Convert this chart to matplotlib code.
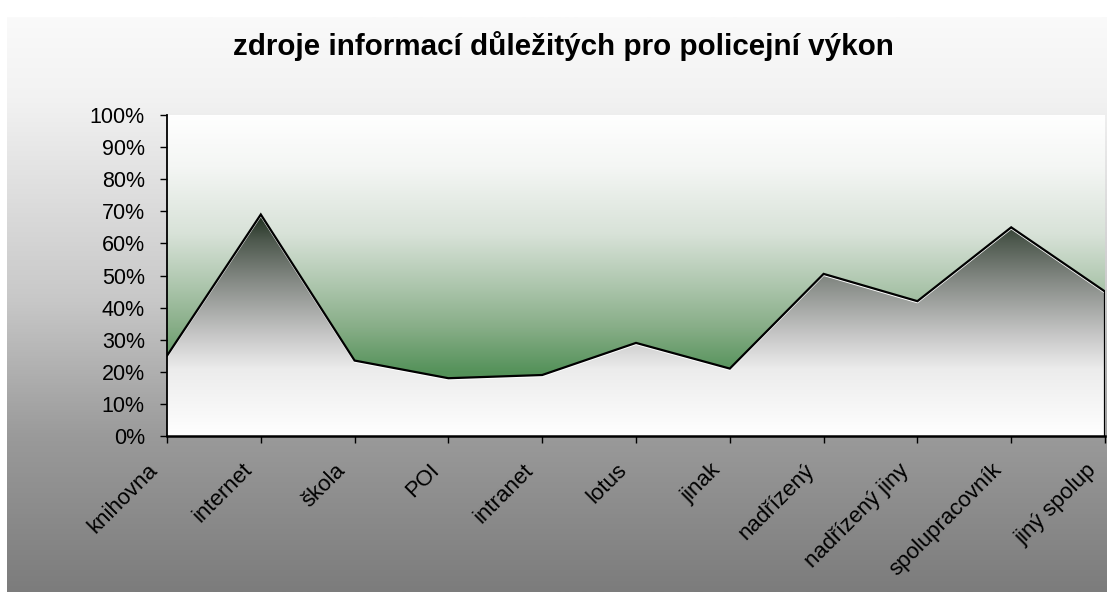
import numpy as np
import matplotlib
matplotlib.use('Agg')
import matplotlib.pyplot as plt
from matplotlib.colors import LinearSegmentedColormap
from matplotlib.ticker import FuncFormatter

plt.rcParams['font.family'] = ['Liberation Sans', 'DejaVu Sans']

categories = ['knihovna', 'internet', 'škola', 'POI', 'intranet', 'lotus', 'jinak',
              'nadřízený', 'nadřízený jiny', 'spolupracovník', 'jiný spolup']
values = [0.25, 0.69, 0.235, 0.18, 0.19, 0.29, 0.21, 0.505, 0.42, 0.65, 0.45]
yticks = np.arange(0, 1.01, 0.1)
title = 'zdroje informací důležitých pro policejní výkon'

W, H = 1107, 592
fig = plt.figure(figsize=(W / 100, H / 100), dpi=100)
fig.patch.set_facecolor('white')

# figure background gradient (light at top, gray at bottom)
bg = fig.add_axes([7 / W, 0, 1 - 7 / W, 1 - 17 / H], zorder=-10)
bg_cmap = LinearSegmentedColormap.from_list('bg', [
    (0.0, '#7c7c7c'), (0.27, '#9a9a9a'), (0.51, '#c8c8c8'), (0.86, '#f2f2f2'), (1.0, '#fafafa')])
grad = np.linspace(0, 1, 256).reshape(-1, 1)
bg.imshow(grad, aspect='auto', cmap=bg_cmap, origin='lower', extent=[0, 1, 0, 1])
bg.set_axis_off()

ax = fig.add_axes([167 / W, 1 - 436 / H, 938 / W, 321 / H])
x = np.arange(len(categories))
ax.set_xlim(0, len(categories) - 1)
ax.set_ylim(0, 1)

# plot area gradient: white at top, green at bottom
plot_cmap = LinearSegmentedColormap.from_list('plotbg', [
    (0.0, '#3f8042'), (0.2, '#55925a'), (0.34, '#88ae88'), (0.48, '#b0c8b0'),
    (0.63, '#d8e2d8'), (0.84, '#f4f6f4'), (1.0, '#ffffff')])
ax.imshow(grad, aspect='auto', cmap=plot_cmap, origin='lower',
          extent=[0, len(categories) - 1, 0, 1], zorder=0)

# area with gradient fill (dark at top, white at bottom)
area = ax.fill_between(x, values, 0, facecolor='none', edgecolor='none', zorder=2)
top = max(values)
area_cmap = LinearSegmentedColormap.from_list('area', [
    (0.0, '#ffffff'), (0.3, '#ececec'), (0.45, '#c8c8c8'), (0.7, '#858a85'),
    (0.88, '#4f5a4f'), (1.0, '#1e2e1e')])
img = ax.imshow(grad, aspect='auto', cmap=area_cmap, origin='lower',
                extent=[0, len(categories) - 1, 0, top], zorder=2)
img.set_clip_path(area.get_paths()[0], transform=ax.transData)

ax.plot(x, np.array(values) - 0.004, color='white', lw=1.2, zorder=3)
ax.plot(x, values, color='black', lw=1.6, zorder=4, solid_joinstyle='miter')
ax.plot([x[-1], x[-1]], [0, values[-1]], color='black', lw=1.6, zorder=4)

# category labels, rotated, ending just left of each tick
ax.set_xticks(x)
ax.set_xticklabels([])
for i, name in zip(x, categories):
    ax.annotate(name, xy=(i, 0), xycoords=('data', 'axes fraction'),
                xytext=(-12, -31), textcoords='offset pixels',
                rotation=45, ha='right', va='center', rotation_mode='anchor',
                fontsize=16, annotation_clip=False)

ax.set_yticks(yticks)
ax.yaxis.set_major_formatter(FuncFormatter(lambda v, p: f'{v * 100:.0f}%'))
ax.tick_params(axis='y', labelsize=15.5, length=5, width=1, direction='out', pad=11)
ax.tick_params(axis='x', length=5, width=1, direction='out')

for side in ['top', 'right']:
    ax.spines[side].set_visible(False)
ax.spines['left'].set_linewidth(1.3)
ax.spines['bottom'].set_linewidth(1.8)
ax.spines['left'].set_zorder(5)
ax.spines['bottom'].set_zorder(5)

fig.text(563 / W, 1 - 46 / H, title, ha='center', va='center', fontsize=21.3, fontweight='bold')

fig.savefig('out.png', dpi=100)
